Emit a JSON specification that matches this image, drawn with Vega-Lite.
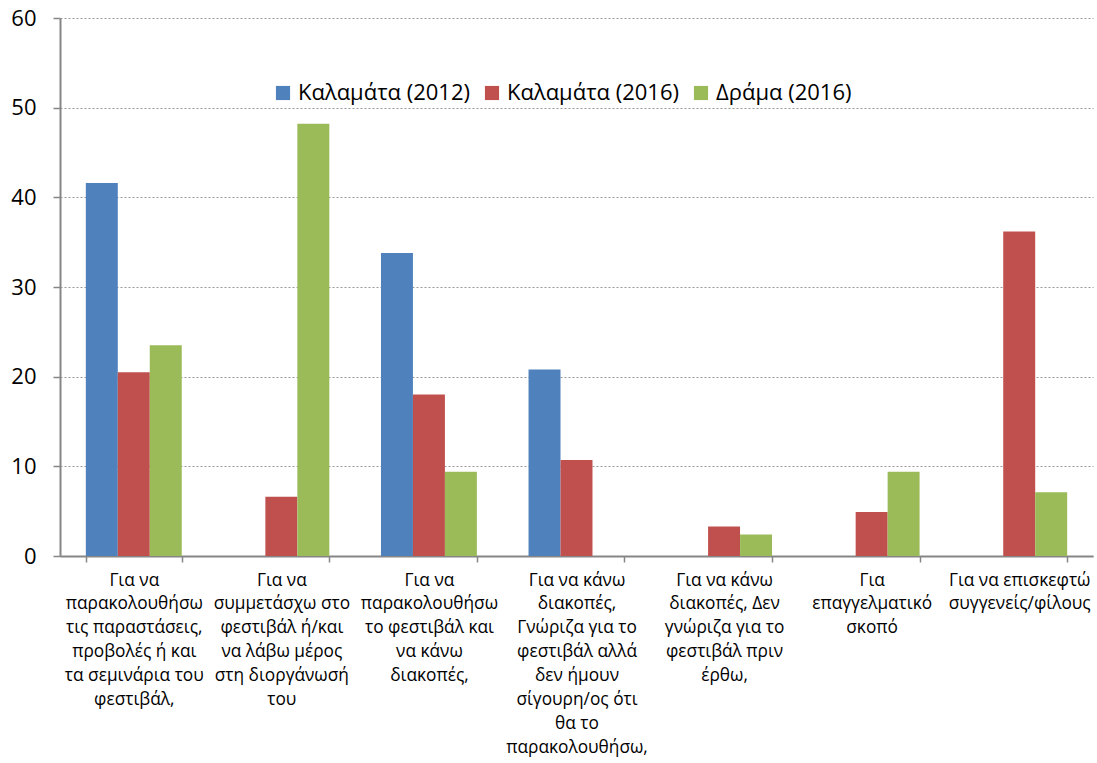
{
  "$schema": "https://vega.github.io/schema/vega-lite/v6.json",
  "width": 1033,
  "height": 538,
  "autosize": {"type": "none"},
  "padding": {"left": 60, "top": 18, "right": 4, "bottom": 207},
  "background": "white",
  "config": {
    "view": {"stroke": null},
    "font": "Open Sans",
    "axis": {"labelFont": "Open Sans", "labelColor": "#000000"}
  },
  "data": {
    "values": [
      {"reason": "Για να|παρακολουθήσω|τις παραστάσεις,|προβολές ή και|τα σεμινάρια του|φεστιβάλ,", "series": "Καλαμάτα (2012)", "value": 41.6},
      {"reason": "Για να|παρακολουθήσω|τις παραστάσεις,|προβολές ή και|τα σεμινάρια του|φεστιβάλ,", "series": "Καλαμάτα (2016)", "value": 20.5},
      {"reason": "Για να|παρακολουθήσω|τις παραστάσεις,|προβολές ή και|τα σεμινάρια του|φεστιβάλ,", "series": "Δράμα (2016)", "value": 23.5},
      {"reason": "Για να|συμμετάσχω στο|φεστιβάλ ή/και|να λάβω μέρος|στη διοργάνωσή|του", "series": "Καλαμάτα (2016)", "value": 6.6},
      {"reason": "Για να|συμμετάσχω στο|φεστιβάλ ή/και|να λάβω μέρος|στη διοργάνωσή|του", "series": "Δράμα (2016)", "value": 48.2},
      {"reason": "Για να|παρακολουθήσω|το φεστιβάλ και|να κάνω|διακοπές,", "series": "Καλαμάτα (2012)", "value": 33.8},
      {"reason": "Για να|παρακολουθήσω|το φεστιβάλ και|να κάνω|διακοπές,", "series": "Καλαμάτα (2016)", "value": 18.0},
      {"reason": "Για να|παρακολουθήσω|το φεστιβάλ και|να κάνω|διακοπές,", "series": "Δράμα (2016)", "value": 9.4},
      {"reason": "Για να κάνω|διακοπές,|Γνώριζα για το|φεστιβάλ αλλά|δεν ήμουν|σίγουρη/ος ότι|θα το|παρακολουθήσω,", "series": "Καλαμάτα (2012)", "value": 20.8},
      {"reason": "Για να κάνω|διακοπές,|Γνώριζα για το|φεστιβάλ αλλά|δεν ήμουν|σίγουρη/ος ότι|θα το|παρακολουθήσω,", "series": "Καλαμάτα (2016)", "value": 10.7},
      {"reason": "Για να κάνω|διακοπές, Δεν|γνώριζα για το|φεστιβάλ πριν|έρθω,", "series": "Καλαμάτα (2016)", "value": 3.3},
      {"reason": "Για να κάνω|διακοπές, Δεν|γνώριζα για το|φεστιβάλ πριν|έρθω,", "series": "Δράμα (2016)", "value": 2.4},
      {"reason": "Για|επαγγελματικό|σκοπό", "series": "Καλαμάτα (2016)", "value": 4.9},
      {"reason": "Για|επαγγελματικό|σκοπό", "series": "Δράμα (2016)", "value": 9.4},
      {"reason": "Για να επισκεφτώ|συγγενείς/φίλους", "series": "Καλαμάτα (2016)", "value": 36.2},
      {"reason": "Για να επισκεφτώ|συγγενείς/φίλους", "series": "Δράμα (2016)", "value": 7.1}
    ]
  },
  "mark": {"type": "bar"},
  "encoding": {
    "x": {
      "field": "reason",
      "type": "nominal",
      "sort": null,
      "scale": {"paddingInner": 0.35, "paddingOuter": 0.175},
      "axis": {
        "title": null,
        "labelAngle": 0,
        "labelExpr": "split(datum.label, '|')",
        "labelFontSize": 17.3,
        "labelLineHeight": 23.9,
        "labelLimit": 0,
        "labelPadding": 9,
        "tickBand": "extent",
        "tickSize": 6,
        "tickColor": "#868686",
        "tickWidth": 1.5,
        "domainColor": "#868686",
        "domainWidth": 2
      }
    },
    "xOffset": {
      "field": "series",
      "type": "nominal",
      "scale": {"domain": ["Καλαμάτα (2012)", "Καλαμάτα (2016)", "Δράμα (2016)"], "paddingInner": 0, "paddingOuter": 0}
    },
    "y": {
      "field": "value",
      "type": "quantitative",
      "scale": {"domain": [0, 60]},
      "axis": {
        "title": null,
        "values": [0, 10, 20, 30, 40, 50, 60],
        "labelFontSize": 22,
        "labelPadding": 17,
        "tickSize": 7,
        "tickColor": "#868686",
        "tickWidth": 1.5,
        "domainColor": "#868686",
        "domainWidth": 2,
        "grid": true,
        "gridColor": "#999999",
        "gridDash": [2, 2],
        "gridWidth": 1.2
      }
    },
    "color": {
      "field": "series",
      "type": "nominal",
      "scale": {
        "domain": ["Καλαμάτα (2012)", "Καλαμάτα (2016)", "Δράμα (2016)"],
        "range": ["#4F81BD", "#C0504D", "#9BBB59"]
      },
      "legend": {
        "title": null,
        "orient": "none",
        "legendX": 212,
        "legendY": 64,
        "direction": "horizontal",
        "symbolType": "square",
        "symbolSize": 200,
        "symbolStrokeWidth": 0,
        "labelFontSize": 22,
        "labelColor": "#000000",
        "labelLimit": 0,
        "columnPadding": 10,
        "symbolOffset": 0
      }
    }
  }
}
